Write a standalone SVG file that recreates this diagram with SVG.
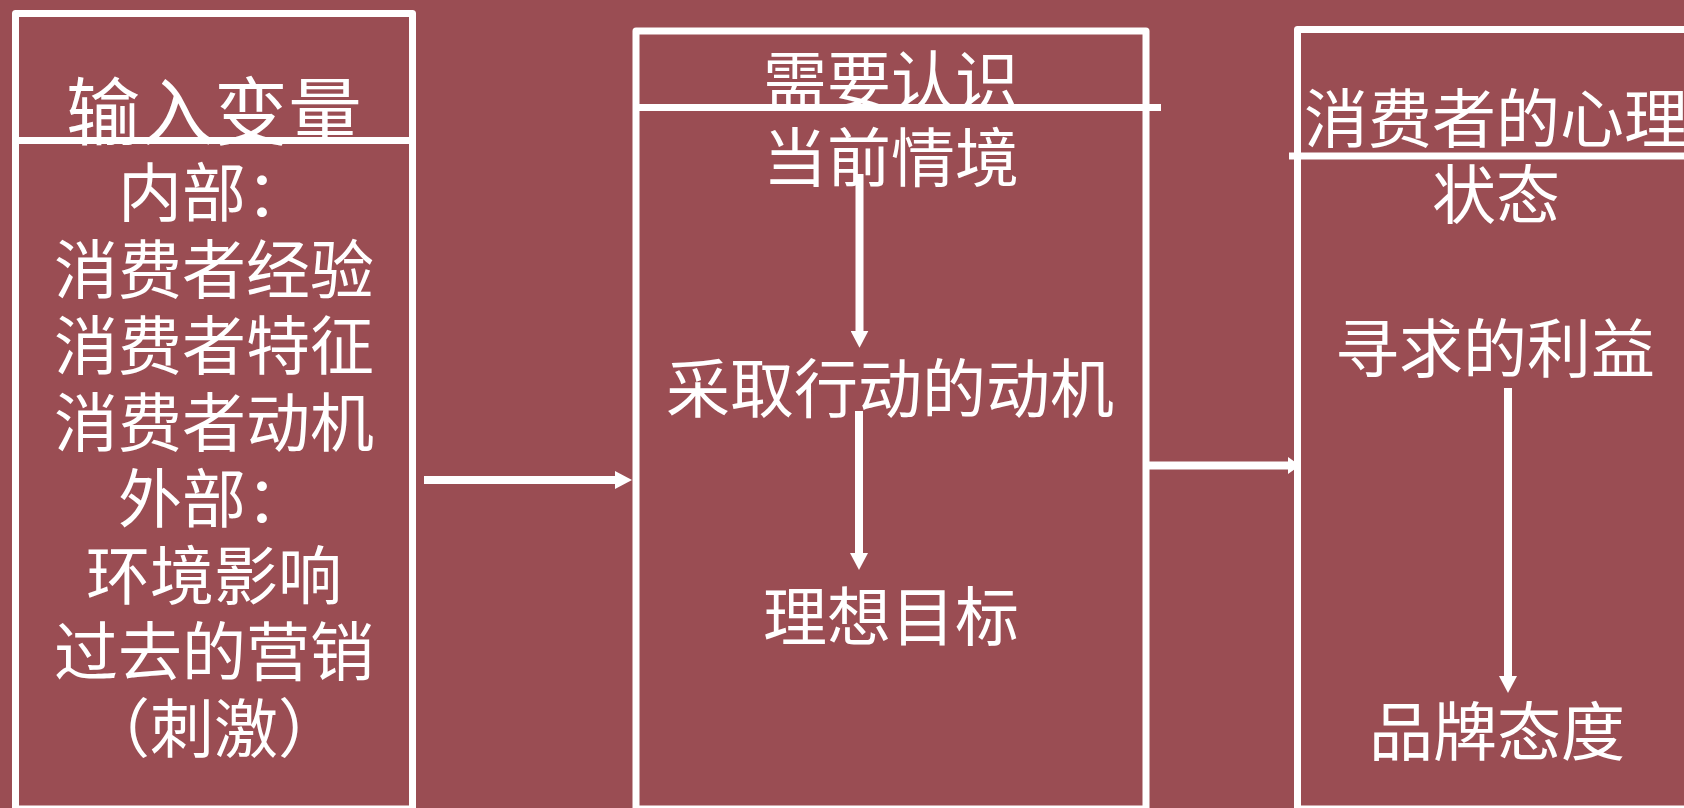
<svg xmlns="http://www.w3.org/2000/svg" width="1684" height="808" viewBox="0 0 1684 808">
<style>
.bg{fill:#9A4D53}
.box{fill:none;stroke:#FFFFFF;stroke-width:7;stroke-linejoin:round}
.div{stroke:#FFFFFF;stroke-width:7}
.t{font-family:"Noto Sans CJK SC","Noto Sans CJK TC",sans-serif;fill:#FFFFFF;text-anchor:middle;font-size:64px}
.tt{font-size:74px}
.arr{stroke:#FFFFFF;stroke-width:8;fill:none}
</style>
<defs>
<marker id="head" markerUnits="userSpaceOnUse" markerWidth="17" markerHeight="18" refX="5" refY="9" orient="auto" viewBox="0 0 17 18">
<path d="M0,0 L17,9 L0,18 z" fill="#FFFFFF"/>
</marker>
<marker id="headSmall" markerUnits="userSpaceOnUse" markerWidth="12" markerHeight="17" refX="3" refY="8.5" orient="auto" viewBox="0 0 12 17">
<path d="M0,0 L12,8.5 L0,17 z" fill="#FFFFFF"/>
</marker>
</defs>
<rect class="bg" x="0" y="0" width="1684" height="808"/>
<g id="connectors">
<line class="arr" x1="424" y1="480" x2="620" y2="480" marker-end="url(#head)"/>
<line class="arr" x1="1149" y1="465.5" x2="1291" y2="465.5" marker-end="url(#headSmall)"/>
<line class="arr" x1="859.5" y1="174" x2="859.5" y2="335.7" marker-end="url(#head)"/>
<line class="arr" x1="859" y1="411" x2="859" y2="558" marker-end="url(#head)"/>
<line class="arr" x1="1508" y1="388" x2="1508" y2="681" marker-end="url(#head)"/>
</g>
<g id="node-input">
<text class="t tt" x="214" y="139">输入变量</text>
<text class="t" x="214" y="216">内部：</text>
<text class="t" x="214" y="292.5">消费者经验</text>
<text class="t" x="214" y="369">消费者特征</text>
<text class="t" x="214" y="445.5">消费者动机</text>
<text class="t" x="214" y="522">外部：</text>
<text class="t" x="214" y="598.5">环境影响</text>
<text class="t" x="214" y="675">过去的营销</text>
<text class="t" x="214" y="751.5">（刺激）</text>
<rect class="box" x="15.5" y="13.5" width="397" height="795.5"/>
<line class="div" x1="15.5" y1="140.5" x2="412.5" y2="140.5"/>
</g>
<g id="node-need">
<text class="t" x="891" y="104">需要认识</text>
<text class="t" x="891" y="181">当前情境</text>
<text class="t" x="890" y="411.5">采取行动的动机</text>
<text class="t" x="891" y="640">理想目标</text>
<rect class="box" x="636" y="31" width="510" height="778"/>
<line class="div" x1="636" y1="107.5" x2="1161" y2="107.5"/>
</g>
<g id="node-state">
<text class="t" x="1496" y="141.5">消费者的心理</text>
<text class="t" x="1496" y="217.5">状态</text>
<text class="t" x="1495" y="371.5">寻求的利益</text>
<text class="t" x="1497" y="755">品牌态度</text>
<rect class="box" x="1297.5" y="29.5" width="397.5" height="779.5"/>
<line class="div" x1="1289" y1="156" x2="1695" y2="156"/>
</g>
</svg>
